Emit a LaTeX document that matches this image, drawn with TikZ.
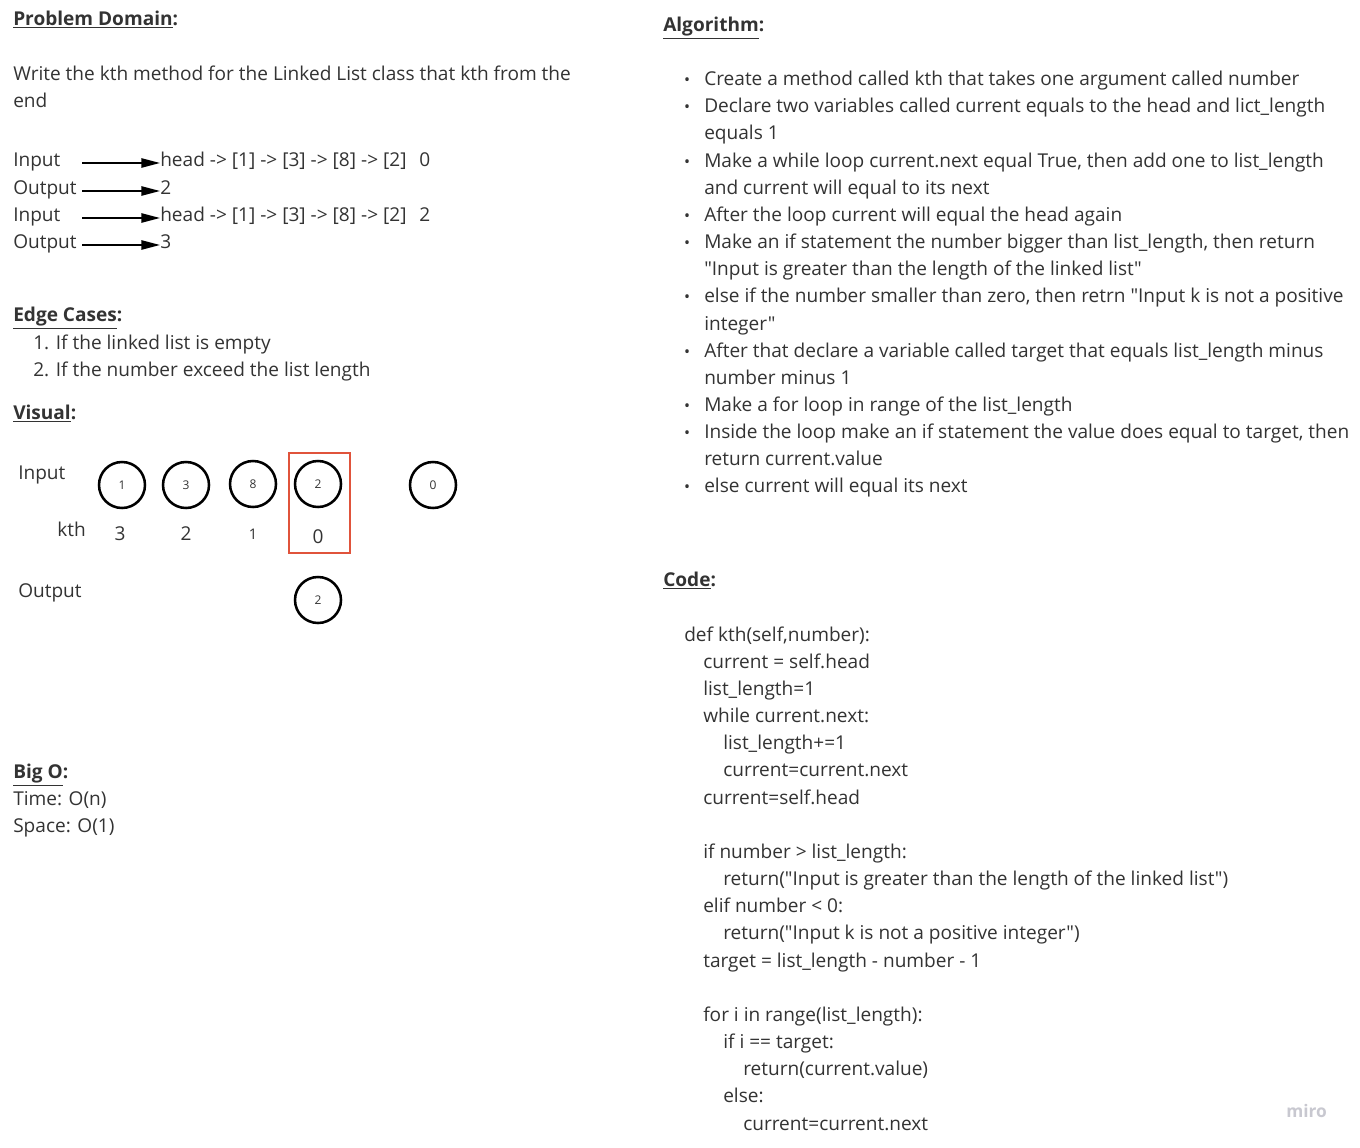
\documentclass[tikz,border=0pt]{standalone}
\usepackage{fontspec}
\setmainfont{Open Sans}[Ligatures=TeXOff]
\usetikzlibrary{arrows.meta}
\definecolor{ink}{RGB}{51,51,51}
\definecolor{redbox}{RGB}{224,83,59}
\definecolor{miro}{RGB}{200,200,208}
\newcommand{\fsbody}{\fontsize{14.3}{17}\selectfont}
\newcommand{\fssmall}{\fontsize{9}{11}\selectfont}
\tikzset{
  txt/.style={anchor=mid west, inner sep=0pt, font=\fsbody, text=ink, yshift=-3pt},
  hdr/.style={txt, font=\fsbody\bfseries},
  ring/.style={circle, draw=black, line width=1.9pt, minimum size=34.5pt, inner sep=0pt, font=\fssmall, text=ink},
  dot/.style={anchor=mid, inner sep=0pt, font=\fontsize{12}{14}\selectfont, text=ink, yshift=-3pt},
  arr/.style={line width=1.2pt, -{Triangle[length=14pt,width=7pt]}},
}
\begin{document}
\begin{tikzpicture}[x=0.75pt,y=-0.75pt]
\useasboundingbox[fill=white] (0,0) rectangle (1360,1148);
% ---------- Left column ----------
\node[hdr] (pd) at (13,18) {\underline{Problem Domain}:};
\node[txt] (pd1) at (13,73) {Write the kth method for the Linked List class that kth from the};
\node[txt] (pd2) at (13,100) {end};
\node[txt] (in1) at (13,159) {Input};
\node[txt] (hd1) at (160,159) {head -> [1] -> [3] -> [8] -> [2]};
\node[txt] (k1) at (419,159) {0};
\node[txt] (out1) at (13,187) {Output};
\node[txt] (o1) at (160,187) {2};
\node[txt] (in2) at (13,214) {Input};
\node[txt] (hd2) at (160,214) {head -> [1] -> [3] -> [8] -> [2]};
\node[txt] (k2) at (419,214) {2};
\node[txt] (out2) at (13,241) {Output};
\node[txt] (o2) at (160,241) {3};
\coordinate (sx) at (82,0);
\draw[arr] (hd1.mid west -| sx) -- (hd1.mid west);
\draw[arr] (o1.mid west -| sx) -- (o1.mid west);
\draw[arr] (hd2.mid west -| sx) -- (hd2.mid west);
\draw[arr] (o2.mid west -| sx) -- (o2.mid west);
\node[hdr] (ec) at (13,314) {\underline{Edge Cases}:};
\node[txt] (ec1) at (33,342) {1. If the linked list is empty};
\node[txt] (ec2) at (33,369) {2. If the number exceed the list length};
\node[hdr] (vi) at (13,412) {\underline{Visual}:};
\node[txt] (vin) at (18,472) {Input};
\node[txt] (vk) at (57,529) {kth};
\node[txt] (vout) at (18,590) {Output};
\node[ring] (n1) at (122,485) {1};
\node[ring] (n3) at (186,485) {3};
\node[ring] (n8) at (253,484) {8};
\node[ring] (n2) at (318,484) {2};
\node[ring] (n0) at (433,485) {0};
\node[ring] (nout) at (318,600) {2};
\node[txt, anchor=mid] (k3) at (120,533) {3};
\node[txt, anchor=mid] (k2v) at (186,533) {2};
\node[txt, anchor=mid, font=\fontsize{11}{13}\selectfont] (k1v) at (253,532) {1};
\node[txt, anchor=mid] (k0) at (318,536) {0};
\draw[redbox, line width=1.9pt] (289,453) rectangle (350,553);
\node[hdr] (bo) at (13,771) {\underline{Big O}:};
\node[txt] (bo1) at (13,798) {Time: O(n)};
\node[txt] (bo2) at (13,825) {Space: O(1)};
% ---------- Algorithm ----------
\node[hdr] (al) at (663,24) {\underline{Algorithm}:};
\foreach \y in {78,105,160,214,241,295,350,404,431,485}
  \node[dot] (b\y) at (687,\y) {•};
\node[txt] (a1) at (704,78) {Create a method called kth that takes one argument called number};
\node[txt] (a2) at (704,105) {Declare two variables called current equals to the head and lict\_length};
\node[txt] (a2b) at (704,132) {equals 1};
\node[txt] (a3) at (704,160) {Make a while loop current.next equal True, then add one to list\_length};
\node[txt] (a3b) at (704,187) {and current will equal to its next};
\node[txt] (a4) at (704,214) {After the loop current will equal the head again};
\node[txt] (a5) at (704,241) {Make an if statement the number bigger than list\_length, then return};
\node[txt] (a5b) at (704,268) {"Input is greater than the length of the linked list"};
\node[txt] (a6) at (704,295) {else if the number smaller than zero, then retrn "Input k is not a positive};
\node[txt] (a6b) at (704,323) {integer"};
\node[txt] (a7) at (704,350) {After that declare a variable called target that equals list\_length minus};
\node[txt] (a7b) at (704,377) {number minus 1};
\node[txt] (a8) at (704,404) {Make a for loop in range of the list\_length};
\node[txt] (a9) at (704,431) {Inside the loop make an if statement the value does equal to target, then};
\node[txt] (a9b) at (704,458) {return current.value};
\node[txt] (a10) at (704,485) {else current will equal its next};
% ---------- Code ----------
\node[hdr] (cd) at (663,579) {\underline{Code}:};
\node[txt] (c1) at (684,634) {def kth(self,number):};
\node[txt] (c2) at (703,661) {current = self.head};
\node[txt] (c3) at (703,688) {list\_length=1};
\node[txt] (c4) at (703,715) {while current.next:};
\node[txt] (c5) at (723,742) {list\_length+=1};
\node[txt] (c6) at (723,769) {current=current.next};
\node[txt] (c7) at (703,797) {current=self.head};
\node[txt] (c8) at (703,851) {if number > list\_length:};
\node[txt] (c9) at (723,878) {return("Input is greater than the length of the linked list")};
\node[txt] (c10) at (703,905) {elif number < 0:};
\node[txt] (c11) at (723,932) {return("Input k is not a positive integer")};
\node[txt] (c12) at (703,960) {target = list\_length - number - 1};
\node[txt] (c13) at (703,1014) {for i in range(list\_length):};
\node[txt] (c14) at (723,1041) {if i == target:};
\node[txt] (c15) at (743,1068) {return(current.value)};
\node[txt] (c16) at (723,1095) {else:};
\node[txt] (c17) at (743,1123) {current=current.next};
\node[txt, text=miro, font=\fontsize{13}{15}\selectfont\bfseries] (mr) at (1286,1110) {miro};
\end{tikzpicture}
\end{document}
